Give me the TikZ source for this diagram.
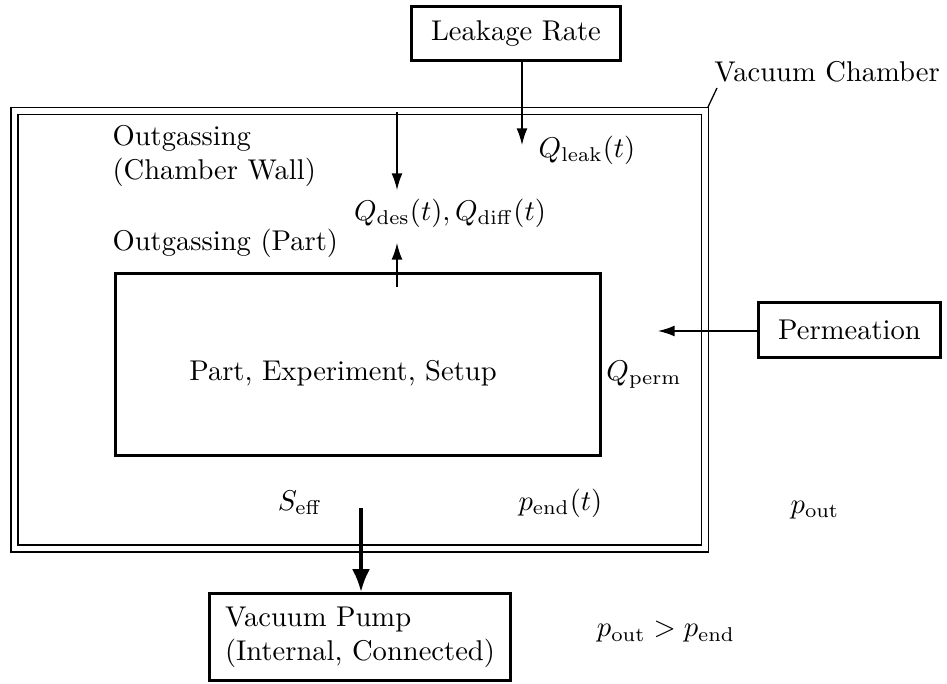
\documentclass[tikz,border=0pt]{standalone}
\usetikzlibrary{arrows.meta}

\tikzset{
  box/.style={draw, very thick, inner sep=0pt, align=center},
  txt/.style={inner sep=0pt},
  flow/.style={-{Latex[length=5.8pt, width=3.8pt]}, line width=0.5pt},
  pumpflow/.style={-{Latex[length=8pt, width=6.3pt]}, very thick},
  wall/.style={draw, line width=0.45pt, double, double distance=2pt, inner sep=0pt, outer sep=0pt}
}

\begin{document}
\begin{tikzpicture}[x=0.35pt, y=-0.35pt]
  \useasboundingbox (0,0) rectangle (947,684);

  % vacuum chamber (double wall)
  \node[wall, minimum width=241.7pt, minimum height=153.1pt] (chamber) at (359.75,329.75) {};
  \coordinate (chNE) at (708,107);
  \coordinate (vcpin) at (717,88);
  \node[txt] (vclabel) at (827,72) {Vacuum Chamber};
  \draw[line width=0.45pt] (chNE) -- (vcpin);

  % sources
  \node[box, minimum width=73pt, minimum height=18.8pt] (leak) at (516,33.5) {Leakage Rate};
  \node[box, minimum width=63.6pt, minimum height=19.1pt] (perm) at (849.5,330) {Permeation};
  \node[box, minimum width=169.6pt, minimum height=63.6pt] (part) at (358,364.5) {};
  \node[txt] (parttext) at (343,373) {Part, Experiment, Setup};
  \node[box, align=left, minimum width=105.2pt, minimum height=30.3pt] (pump) at (360,637)
    {Vacuum Pump\\(Internal, Connected)};

  % labels
  \node[txt] (qleak) at (587,150) {$Q_{\mathrm{leak}}(t)$};
  \node[txt, anchor=west, align=left] (owall) at (112,156) {Outgassing\\(Chamber Wall)};
  \node[txt] (qdes) at (450,213) {$Q_{\mathrm{des}}(t), Q_{\mathrm{diff}}(t)$};
  \node[txt, anchor=west] (opart) at (112,243) {Outgassing (Part)};
  \node[txt] (qperm) at (644,375) {$Q_{\mathrm{perm}}$};
  \node[txt] (seff) at (300,503) {$S_{\mathrm{eff}}$};
  \node[txt, anchor=west] (pend) at (518,503) {$p_{\mathrm{end}}(t)$};
  \node[txt] (pout) at (815,510) {$p_{\mathrm{out}}$};
  \node[txt] (ineq) at (666,632) {$p_{\mathrm{out}} > p_{\mathrm{end}}$};

  % gas flows
  \coordinate (leakend) at (522,145);
  \draw[flow] (leak.south -| leakend) -- (leakend);

  \coordinate (wallsrc) at (397,112);
  \coordinate (wallend) at (397,190);
  \draw[flow] (wallsrc) -- (wallend);

  \coordinate (partsrc) at (397,287);
  \coordinate (partend) at (397,243);
  \draw[flow] (partsrc) -- (partend);

  \coordinate (permend) at (658,331);
  \draw[flow] (perm.west |- permend) -- (permend);

  \coordinate (pumpsrc) at (361,508);
  \draw[pumpflow] (pumpsrc) -- (pump.north -| pumpsrc);
\end{tikzpicture}
\end{document}
